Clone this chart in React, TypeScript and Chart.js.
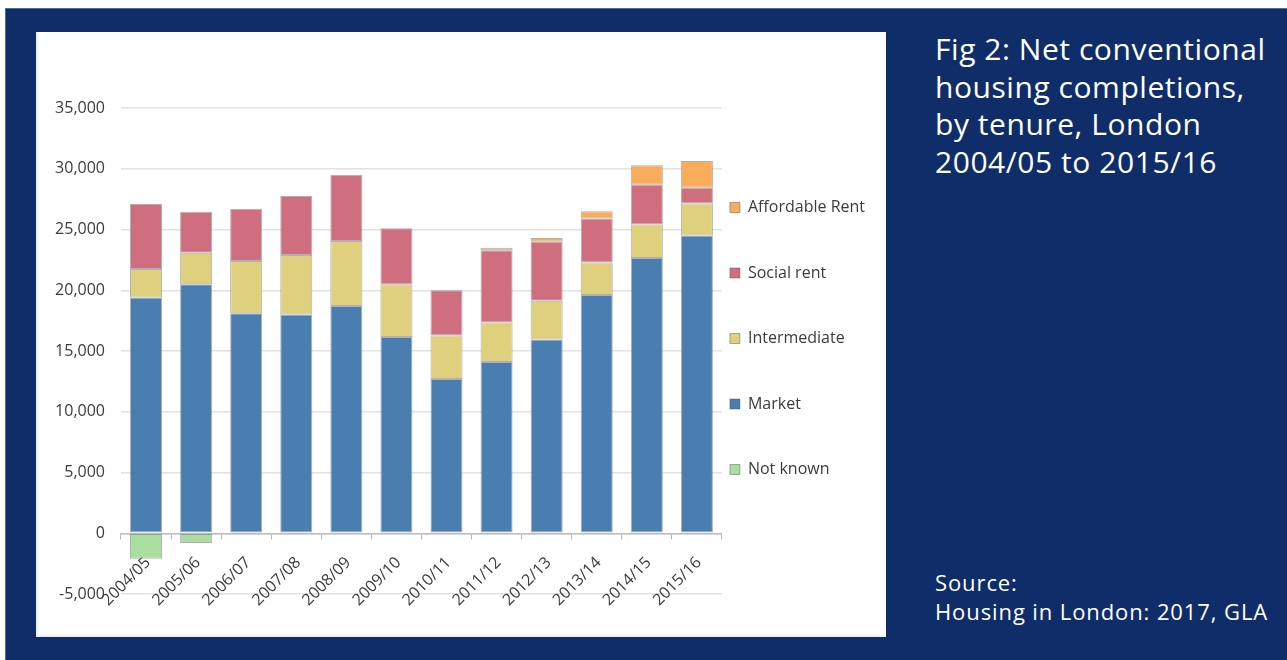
import { useEffect, useRef } from 'react';
import { Chart, registerables } from 'chart.js';

Chart.register(...registerables);

const categories = ['2004/05', '2005/06', '2006/07', '2007/08', '2008/09', '2009/10', '2010/11', '2011/12', '2012/13', '2013/14', '2014/15', '2015/16'];
const notKnown = [-2100, -800, -80, -80, null, null, null, null, null, null, null, null];
const market = [19400, 20500, 18100, 18000, 18700, 16150, 12700, 14100, 15950, 19600, 22650, 24500];
const intermediate = [2350, 2580, 4300, 4900, 5350, 4350, 3580, 3250, 3180, 2690, 2770, 2650];
const socialRent = [5350, 3380, 4300, 4850, 5450, 4600, 3720, 5950, 4870, 3610, 3260, 1290];
const affordableRent = [null, null, null, null, null, null, null, 200, 300, 600, 1600, 2200];
const yMin = -5000;
const yMax = 35000;
const yStep = 5000;

const titleLines = ['Fig 2: Net conventional', 'housing completions,', 'by tenure, London', '2004/05 to 2015/16'];
const sourceLines = ['Source:', 'Housing in London: 2017, GLA'];

const NAVY = '#0f2d69';
const FONT = '"Open Sans", "DejaVu Sans", sans-serif';
const TEXT = '#3c3c3c';
const LEGEND_DX = 41.5;
const LEGEND_DY = 12.5;

const legendNudge = {
  id: 'legendNudge',
  afterLayout(chart: any) {
    const l = chart.legend;
    if (!l) return;
    l.left -= LEGEND_DX;
    l.right -= LEGEND_DX;
    l.top -= LEGEND_DY;
    l.bottom -= LEGEND_DY;
  },
};

export default function App() {
  const ref = useRef<HTMLCanvasElement>(null);

  useEffect(() => {
    if (!ref.current) return;
    const outline = 'rgba(80,80,80,0.45)';
    const mk = (label: string, data: any[], color: string) => ({
      label,
      data,
      backgroundColor: color,
      borderColor: outline,
      borderWidth: 1,
      borderSkipped: false as const,
      barPercentage: 0.64,
      categoryPercentage: 1.0,
    });
    const chart = new Chart(ref.current, {
      type: 'bar',
      data: {
        labels: categories,
        datasets: [
          mk('Not known', notKnown, '#aadda0'),
          mk('Market', market, '#4a7eb1'),
          mk('Intermediate', intermediate, '#dfd07e'),
          mk('Social rent', socialRent, '#ce6e7e'),
          mk('Affordable Rent', affordableRent, '#f9ad5c'),
        ],
      },
      plugins: [legendNudge],
      options: {
        animation: false,
        responsive: false,
        maintainAspectRatio: false,
        layout: { padding: { top: 76, bottom: 43, left: 0, right: -30.5 } },
        plugins: {
          legend: {
            position: 'right',
            reverse: true,
            labels: {
              boxWidth: 10,
              boxHeight: 10,
              padding: 49.5,
              color: TEXT,
              font: { family: FONT, size: 16 },
            },
          },
          tooltip: { enabled: false },
        },
        scales: {
          x: {
            stacked: true,
            z: 1,
            position: { y: 0 } as any,
            grid: {
              display: true,
              drawOnChartArea: false,
              drawTicks: true,
              tickLength: 5,
              color: '#b5b5b5',
              offset: true,
            },
            border: { display: true, color: '#bdbdbd', width: 1.5 },
            ticks: {
              autoSkip: false,
              minRotation: 45,
              maxRotation: 45,
              padding: 15,
              labelOffset: 2,
              color: TEXT,
              font: { family: FONT, size: 16 },
            },
            afterFit: (s: any) => {
              s.height = 0;
            },
          },
          y: {
            stacked: true,
            min: yMin,
            max: yMax,
            grid: { color: '#e2e2e2', lineWidth: 1.5, drawTicks: false },
            border: { display: false },
            ticks: {
              stepSize: yStep,
              padding: 16,
              color: TEXT,
              font: { family: FONT, size: 16 },
              callback: (v: any) => Number(v).toLocaleString('en-US'),
            },
            afterFit: (s: any) => {
              s.width = 85;
            },
          },
        },
      },
    });
    return () => chart.destroy();
  }, []);

  return (
    <div
      style={{
        position: 'absolute',
        left: 5,
        top: 8,
        width: 1282,
        height: 652,
        background: NAVY,
        boxShadow: 'inset 1px 1px 0 #4a6f9c',
        fontFamily: FONT,
        overflow: 'hidden',
      }}
    >
      <div
        style={{
          position: 'absolute',
          left: 31,
          top: 24,
          width: 850,
          height: 605,
          background: '#ffffff',
          boxShadow: 'inset 2px -2px 2px rgba(0,0,0,0.07)',
        }}
      >
        <canvas ref={ref} width={850} height={605} style={{ display: 'block', width: 850, height: 605 }} />
      </div>
      <div
        style={{
          position: 'absolute',
          left: 930,
          top: 22,
          color: '#ffffff',
          fontSize: 30,
          letterSpacing: '0.55px',
          lineHeight: '37.7px',
          whiteSpace: 'nowrap',
        }}
      >
        {titleLines.map((t) => (
          <div key={t}>{t}</div>
        ))}
      </div>
      <div
        style={{
          position: 'absolute',
          left: 930,
          top: 560,
          color: '#ffffff',
          fontSize: 22,
          letterSpacing: '0.9px',
          lineHeight: '29px',
          whiteSpace: 'nowrap',
        }}
      >
        {sourceLines.map((t) => (
          <div key={t}>{t}</div>
        ))}
      </div>
    </div>
  );
}
